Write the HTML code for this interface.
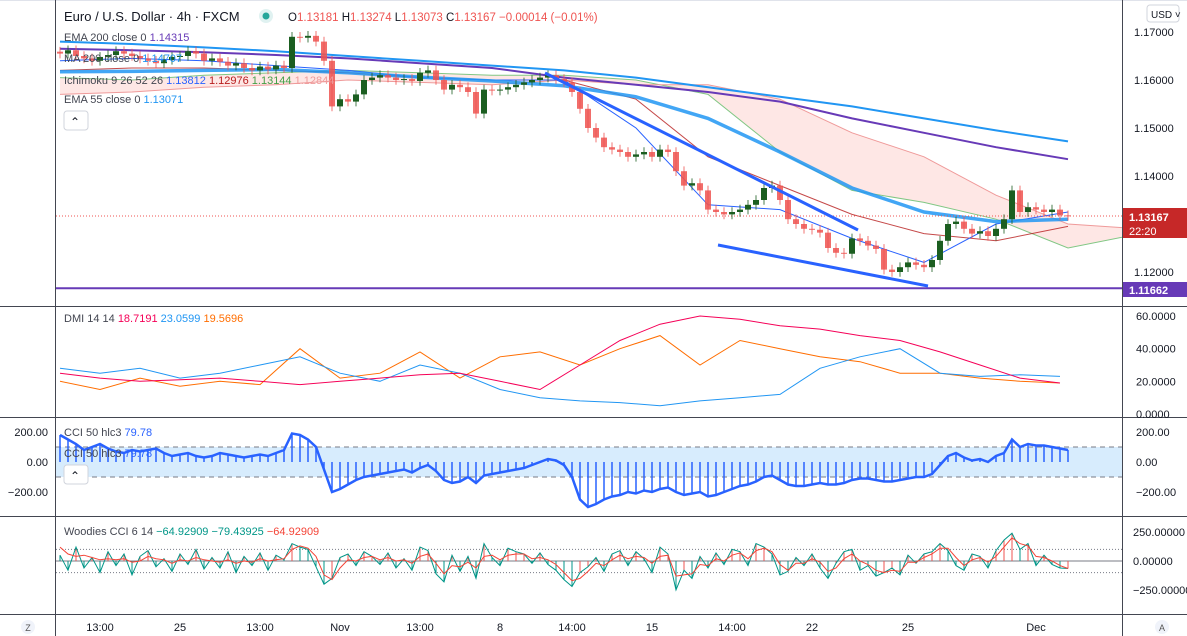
<!DOCTYPE html>
<html><head><meta charset="utf-8">
<style>
body{margin:0;background:#fff;font-family:"Liberation Sans",sans-serif;}
#root{position:relative;width:1187px;height:636px;overflow:hidden;background:#fff;}
svg{position:absolute;left:0;top:0;}
</style></head>
<body>
<div id="root">
<svg id="chart" width="1187" height="636"></svg>
</div>
<script>
// ---- data ----
const closes=[1.1655,1.1662,1.1650,1.1645,1.1640,1.1648,1.1652,1.1660,1.1655,1.1650,
1.1645,1.1640,1.1635,1.1642,1.1648,1.1650,1.1660,1.1655,1.1640,1.1645,
1.1638,1.1630,1.1635,1.1625,1.1620,1.1628,1.1622,1.1630,1.1625,1.1690,
1.1688,1.1692,1.1680,1.1640,1.1545,1.1560,1.1555,1.1570,1.1600,1.1605,
1.1610,1.1605,1.1600,1.1602,1.1598,1.1615,1.1620,1.1600,1.1580,1.1590,
1.1585,1.1575,1.1530,1.1580,1.1578,1.1580,1.1585,1.1590,1.1595,1.1600,
1.1605,1.1610,1.1602,1.1595,1.1575,1.1540,1.1500,1.1480,1.1460,1.1455,
1.1450,1.1440,1.1445,1.1450,1.1440,1.1455,1.1450,1.1410,1.1380,1.1385,
1.1370,1.1330,1.1325,1.1320,1.1325,1.1330,1.1340,1.1350,1.1375,1.1380,
1.1350,1.1310,1.1300,1.1290,1.1288,1.1282,1.1250,1.1240,1.1238,1.1270,
1.1265,1.1255,1.1248,1.1205,1.1200,1.1210,1.1220,1.1215,1.1210,1.1225,
1.1265,1.1300,1.1305,1.1290,1.1280,1.1285,1.1275,1.1290,1.1310,1.1370,
1.1325,1.1335,1.1330,1.1325,1.1330,1.1318,1.1317];
const ema200=[1.1665,1.1662,1.1658,1.1652,1.1645,1.1635,1.1625,1.1605,1.1590,1.1575,1.1555,1.1520,1.1490,1.1460,1.1435];
const ma200=[1.1680,1.1675,1.1668,1.1660,1.1650,1.1640,1.1630,1.1620,1.1605,1.1585,1.1565,1.1545,1.1520,1.1495,1.1472];
const ema55=[1.1617,1.1618,1.1620,1.1622,1.1615,1.1606,1.1598,1.1588,1.1565,1.1520,1.1450,1.1375,1.1325,1.1305,1.1310];
const tenkan=[1.1640,1.1645,1.1640,1.1630,1.1620,1.1605,1.1600,1.1600,1.1500,1.1340,1.1330,1.1270,1.1220,1.1300,1.1325];
const kijun=[1.1620,1.1625,1.1625,1.1620,1.1615,1.1605,1.1600,1.1600,1.1560,1.1440,1.1380,1.1320,1.1280,1.1265,1.1295];
const spanA=[1.1605,1.1600,1.1610,1.1615,1.1620,1.1615,1.1610,1.1610,1.1600,1.1570,1.1450,1.1370,1.1345,1.1310,1.1250,1.1280];
const spanB=[1.1570,1.1575,1.1585,1.1590,1.1600,1.1595,1.1590,1.1600,1.1590,1.1590,1.1560,1.1490,1.1440,1.1360,1.1300,1.1290];
const dmiAdx=[25,22,20,21,22,20,18,20,22,24,25,20,15,30,45,55,60,58,54,52,48,45,38,30,22,19];
const dmiPlus=[28,25,28,22,25,30,35,25,20,30,25,15,10,8,7,5,8,10,12,28,35,40,25,23,24,23];
const dmiMinus=[20,15,22,17,20,18,40,22,25,38,22,35,38,30,40,48,30,45,40,35,32,25,25,22,20,19];
const cci=[180,150,120,80,100,120,90,70,60,80,70,80,90,60,40,50,60,40,30,40,60,50,40,30,40,50,40,60,80,190,
180,150,100,-50,-200,-180,-150,-120,-100,-90,-80,-70,-60,-50,-70,-40,-20,-60,-120,-140,
-130,-100,-140,-90,-80,-70,-60,-50,-40,-20,0,20,10,-20,-100,-250,-300,-280,-250,-230,
-220,-200,-210,-190,-200,-180,-170,-200,-220,-210,-200,-230,-220,-200,-180,-160,-150,-130,-100,-90,
-120,-150,-160,-160,-150,-140,-150,-150,-140,-120,-110,-110,-120,-130,-130,-120,-110,-100,-100,-80,
-20,40,60,30,10,20,0,40,60,150,100,120,110,110,100,90,80];
const woodCci=[50,-80,120,-60,30,-100,80,-40,60,-120,40,90,-50,20,-90,60,-30,100,-70,30,
-60,80,-100,40,-40,70,-80,50,10,150,120,100,-50,-200,-150,30,60,-40,80,40,
-30,70,-60,20,-80,120,90,-110,-180,50,-90,40,-150,150,30,-40,110,80,60,-20,
70,-30,-80,-160,-220,-100,-50,30,-90,60,90,-40,80,20,-100,120,60,-250,-80,-150,
40,-60,70,-30,100,80,-40,150,120,60,-120,-90,30,-40,60,-60,-150,-20,80,100,
-80,-40,-130,-100,-60,-120,50,-20,60,80,150,90,-40,-80,60,40,-60,90,180,240,
100,150,-40,50,-30,-60,-65];
const woodTurbo=[120,60,40,50,30,10,20,10,20,-10,0,40,20,10,-20,10,0,30,10,0,
-10,10,-20,0,-10,20,0,10,20,100,130,110,40,-120,-160,-60,10,0,30,40,
10,30,0,10,-20,40,60,-20,-110,-40,-50,-10,-60,40,50,10,50,60,60,20,
30,10,-30,-100,-170,-150,-90,-20,-40,10,50,20,40,30,-20,40,50,-130,-120,-110,
-30,-40,20,0,50,70,20,90,110,80,-30,-80,-20,-20,20,-10,-90,-60,20,60,
0,-30,-80,-100,-80,-90,-10,-10,30,60,110,110,30,-40,10,30,-10,40,120,200,
150,130,40,30,0,-40,-65];
const timeLabels=["13:00","25","13:00","Nov","13:00","8","14:00","15","14:00","22","25","Dec"];
const timeIdx=[5,15,25,35,45,55,64,74,84,94,106,122];
const priceTicks=[1.17,1.16,1.15,1.14,1.12];
const dmiTicks=[60,40,20,0];
const cciTicks=[200,0,-200];
const woodTicks=[250,0,-250];

// ---- helpers ----
const NS="http://www.w3.org/2000/svg";
const svg=document.getElementById('chart');
function el(tag,attrs,parent){const e=document.createElementNS(NS,tag);for(const k in attrs)e.setAttribute(k,attrs[k]);(parent||svg).appendChild(e);return e;}
function txt(x,y,s,attrs,parent){const t=el('text',Object.assign({x:x,y:y,'font-size':12,fill:'#131722','font-family':'Liberation Sans, sans-serif'},attrs||{}),parent);t.textContent=s;return t;}
const X=i=>60+8*i;
const PY=p=>32+(1.17-p)*4800;
const DY=v=>414-v*1.633;
const CY=v=>462-v*0.15;
const WY=v=>561-v*0.116;
const R=1122;
function poly(vals,step,yf,attrs,name){
  const pts=vals.map((v,k)=>X(k*step).toFixed(1)+','+yf(v).toFixed(1)).join(' ');
  const p=el('polyline',Object.assign({points:pts,fill:'none'},attrs));
  
  
  return p;
}
const defs=el('defs',{});
const cp=el('clipPath',{id:'main'},defs);el('rect',{x:56,y:0,width:R-56,height:306},cp);
const cp2=el('clipPath',{id:'plots'},defs);el('rect',{x:56,y:0,width:R-56,height:636},cp2);

// ---- frame ----
el('rect',{x:0,y:0,width:1187,height:636,fill:'#fff'});
el('line',{x1:0,y1:0.5,x2:1187,y2:0.5,stroke:'#e0e3eb'});
el('line',{x1:55.5,y1:0,x2:55.5,y2:636,stroke:'#434651'});
el('line',{x1:R+0.5,y1:0,x2:R+0.5,y2:636,stroke:'#434651'});
[306,417,516,614].forEach(y=>el('line',{x1:0,y1:y+0.5,x2:1187,y2:y+0.5,stroke:'#434651'}));

// ---- main pane ----
const g=el('g',{'clip-path':'url(#main)'});


const cloudPts=spanA.map((v,k)=>X(k*9)+','+PY(v)).concat(spanB.map((v,k)=>X(k*9)+','+PY(v)).reverse()).join(' ');
const cloud=el('polygon',{points:cloudPts,fill:'rgba(244,67,54,0.13)'},g);


g.appendChild(poly(spanA,9,PY,{stroke:'#81c784','stroke-width':1},'ichimoku-span-a'));
g.appendChild(poly(spanB,9,PY,{stroke:'#ef9a9a','stroke-width':1},'ichimoku-span-b'));
g.appendChild(poly(kijun,9,PY,{stroke:'#b71c1c','stroke-width':1,'stroke-opacity':0.8},'ichimoku-base-line'));
g.appendChild(poly(tenkan,9,PY,{stroke:'#2962ff','stroke-width':1},'ichimoku-conversion-line'));
g.appendChild(poly(ema200,9,PY,{stroke:'#673ab7','stroke-width':2},'ema-200-line'));
g.appendChild(poly(ma200,9,PY,{stroke:'#2196f3','stroke-width':2},'ma-200-line'));
g.appendChild(poly(ema55,9,PY,{stroke:'#2196f3','stroke-width':3.5,'stroke-opacity':0.85},'ema-55-line'));
const hl=el('line',{x1:56,y1:PY(1.11662),x2:R,y2:PY(1.11662),stroke:'#673ab7','stroke-width':2},g);


const cl=el('line',{x1:56,y1:PY(1.13167),x2:R,y2:PY(1.13167),stroke:'#ef5350','stroke-width':1,'stroke-dasharray':'1 2'},g);


closes.forEach((c,i)=>{
  const o=i?closes[i-1]:c+0.0004;
  const up=c>=o;
  const col=up?'#1b5e20':'#ef5350';
  const cg=el('g',{},g);
  
  
  el('line',{x1:X(i),x2:X(i),y1:PY(Math.max(o,c)+0.0010),y2:PY(Math.min(o,c)-0.0010),stroke:col,'stroke-opacity':0.8},cg);
  const top=PY(Math.max(o,c)),h=Math.max(1,PY(Math.min(o,c))-top);
  el('rect',{x:X(i)-3,y:top,width:6,height:h,fill:col,'fill-opacity':up?1:0.85},cg);
});
const t1=el('line',{x1:545,y1:73,x2:858,y2:230,stroke:'#2962ff','stroke-width':3},g);


const t2=el('line',{x1:718,y1:245,x2:928,y2:286,stroke:'#2962ff','stroke-width':3},g);



const lg=el('g',{});


el('rect',{x:58,y:6,width:620,height:20,fill:'#fff','fill-opacity':0.9},lg);
txt(64,21,'Euro / U.S. Dollar · 4h · FXCM',{'font-size':13,fill:'#131722'},lg);
el('circle',{cx:266,cy:16,r:7,fill:'#e0f2f1'},lg);el('circle',{cx:266,cy:16,r:3.5,fill:'#26a69a'},lg);
const ohlc=txt(288,21,'',{'font-size':11.5},lg);
[['O','1.13181'],['H','1.13274'],['L','1.13073'],['C','1.13167']].forEach(([a,b])=>{const s=el('tspan',{fill:'#131722'},ohlc);s.textContent=' '+a;const s2=el('tspan',{fill:'#ef5350'},ohlc);s2.textContent=b;});
const ch=el('tspan',{fill:'#ef5350'},ohlc);ch.textContent=' −0.00014 (−0.01%)';
function legendLine(y,parts,name){const t=txt(64,y,'',{'font-size':11},svg);parts.forEach(([s,c])=>{const sp=el('tspan',{fill:c},t);sp.textContent=s;});return t;}
legendLine(41,[['EMA 200 close 0  ','#434651'],['1.14315','#673ab7']],'ema-200-legend');
legendLine(62,[['MA 200 close 0  ','#434651'],['1.14707','#2196f3']],'ma-200-legend');
legendLine(84,[['Ichimoku 9 26 52 26  ','#434651'],['1.13812  ','#2962ff'],['1.12976  ','#b71c1c'],['1.13144  ','#43a047'],['1.12844','#ef9a9a']],'ichimoku-legend');
legendLine(103,[['EMA 55 close 0  ','#434651'],['1.13071','#2196f3']],'ema-55-legend');
const cb=el('rect',{x:64,y:111,width:24,height:19,rx:3,fill:'#fff',stroke:'#d1d4dc'});


txt(70,126,'⌃',{'font-size':12,fill:'#131722'});

// ---- DMI pane ----
const dg=el('g',{'clip-path':'url(#plots)'});


dg.appendChild(poly(dmiMinus,5,DY,{stroke:'#ff6d00','stroke-width':1},'dmi-minus-line'));
dg.appendChild(poly(dmiPlus,5,DY,{stroke:'#2196f3','stroke-width':1},'dmi-plus-line'));
dg.appendChild(poly(dmiAdx,5,DY,{stroke:'#f50057','stroke-width':1},'adx-line'));
legendLine(322,[['DMI 14 14  ','#434651'],['18.7191  ','#f50057'],['23.0599  ','#2196f3'],['19.5696','#ff6d00']],'dmi-legend');

// ---- CCI pane ----
const cg2=el('g',{'clip-path':'url(#plots)'});


el('rect',{x:56,y:CY(100),width:R-56,height:CY(-100)-CY(100),fill:'#2196f3','fill-opacity':0.18},cg2);
[100,-100].forEach(v=>el('line',{x1:56,x2:R,y1:CY(v),y2:CY(v),stroke:'#787b86','stroke-dasharray':'5 4'},cg2));
cci.forEach((v,i)=>{const b=el('line',{x1:X(i),x2:X(i),y1:CY(0),y2:CY(v),stroke:'#2962ff','stroke-width':1.5},cg2);});
cg2.appendChild(poly(cci,1,CY,{stroke:'#2962ff','stroke-width':2.5},'cci-line'));
legendLine(436,[['CCI 50 hlc3  ','#434651'],['79.78','#2962ff']],'cci-legend');
legendLine(457,[['CCI 50 hlc3  ','#434651'],['79.78','#2962ff']],'cci-legend-2');
const cb2=el('rect',{x:64,y:465,width:24,height:19,rx:3,fill:'#fff',stroke:'#d1d4dc'});


txt(70,480,'⌃',{'font-size':12});
cciTicks.forEach(v=>txt(48,CY(v)+4,v.toFixed(2).replace('-','−'),{'font-size':11,'text-anchor':'end',fill:'#131722'}));

// ---- Woodies pane ----
const wg=el('g',{'clip-path':'url(#plots)'});


[100,-100].forEach(v=>el('line',{x1:56,x2:R,y1:WY(v),y2:WY(v),stroke:'#787b86','stroke-dasharray':'1 2'},wg));
el('line',{x1:56,x2:R,y1:WY(0),y2:WY(0),stroke:'#787b86'},wg);
woodCci.forEach((v,i)=>{const b=el('line',{x1:X(i),x2:X(i),y1:WY(0),y2:WY(v),stroke:v>=woodTurbo[i]?'#ef5350':'#009688','stroke-width':1},wg);});
wg.appendChild(poly(woodCci,1,WY,{stroke:'#009688','stroke-width':1},'woodies-cci-line'));
wg.appendChild(poly(woodTurbo,1,WY,{stroke:'#f44336','stroke-width':1},'woodies-turbo-line'));
legendLine(535,[['Woodies CCI 6 14  ','#434651'],['−64.92909  ','#009688'],['−79.43925  ','#009688'],['−64.92909','#f44336']],'woodies-legend');

// ---- right axis ----
const ax=el('g',{});


priceTicks.forEach(v=>txt(1134,PY(v)+4,v.toFixed(5),{'font-size':11},ax));
dmiTicks.forEach(v=>txt(1136,DY(v)+4,v.toFixed(4),{'font-size':11},ax));
cciTicks.forEach(v=>txt(1136,CY(v)+4,v.toFixed(2).replace('-','−'),{'font-size':11},ax));
woodTicks.forEach(v=>txt(1133,WY(v)+4,v.toFixed(5).replace('-','−'),{'font-size':11},ax));
const usd=el('rect',{x:1147,y:5,width:32,height:17,rx:3,fill:'#fff',stroke:'#d1d4dc'});


txt(1151,18,'USD ˅',{'font-size':10});
const pl=el('rect',{x:R+1,y:208,width:64,height:30,fill:'#c62828'});


txt(1129,221,'1.13167',{'font-size':11,fill:'#fff','font-weight':'bold'});
txt(1129,235,'22:20',{'font-size':11,fill:'#fff'});
const sl=el('rect',{x:R+1,y:282,width:64,height:15,fill:'#673ab7'});


txt(1129,294,'1.11662',{'font-size':11,fill:'#fff','font-weight':'bold'});

// ---- time axis ----
const tg=el('g',{});


timeLabels.forEach((s,k)=>txt(X(timeIdx[k]),631,s,{'font-size':11,'text-anchor':'middle'},tg));
el('circle',{cx:28,cy:627,r:7,fill:'#f0f3fa'});txt(28,631,'Z',{'font-size':9,'text-anchor':'middle',fill:'#555'});
el('circle',{cx:1162,cy:627,r:7,fill:'#f0f3fa'});txt(1162,631,'A',{'font-size':9,'text-anchor':'middle',fill:'#555'});
</script>
</body></html>
